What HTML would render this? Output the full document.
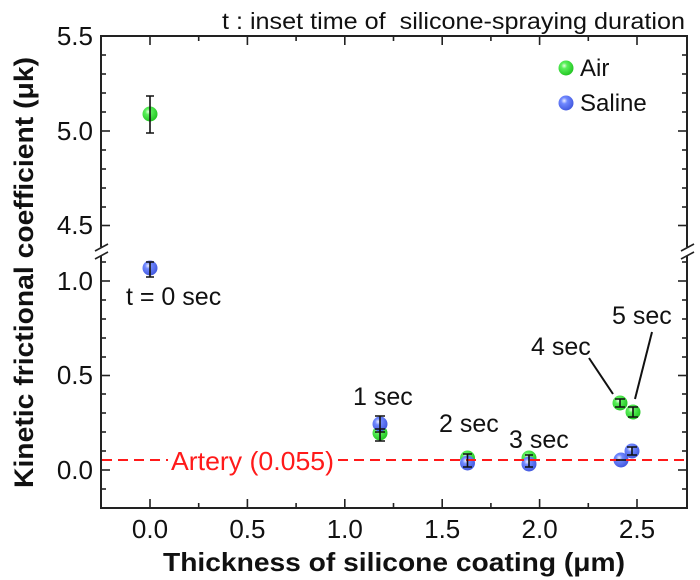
<!DOCTYPE html>
<html><head><meta charset="utf-8"><style>
html,body{margin:0;padding:0;background:#fff;}
svg{display:block;}
text{font-family:"Liberation Sans",Arial,sans-serif;}
</style></head><body>
<svg width="700" height="580" viewBox="0 0 700 580" xmlns="http://www.w3.org/2000/svg">
<defs>
<radialGradient id="gG" cx="38%" cy="35%" r="70%">
<stop offset="0%" stop-color="#e6ffe0"/><stop offset="28%" stop-color="#5af05a"/><stop offset="100%" stop-color="#1fc21f"/>
</radialGradient>
<radialGradient id="gB" cx="38%" cy="35%" r="70%">
<stop offset="0%" stop-color="#eef0ff"/><stop offset="30%" stop-color="#7088ff"/><stop offset="100%" stop-color="#3f55dc"/>
</radialGradient>
</defs>
<rect width="700" height="580" fill="#fff"/>

<!-- title -->
<text x="222" y="29" font-size="23" textLength="463" lengthAdjust="spacingAndGlyphs" fill="#111" xml:space="preserve">t : inset time of  silicone-spraying duration</text>

<!-- frame -->
<g stroke="#222" stroke-width="2" fill="none">
<line x1="100" y1="36" x2="688" y2="36"/>
<line x1="100" y1="508" x2="688" y2="508"/>
<line x1="101" y1="36" x2="101" y2="247"/>
<line x1="101" y1="256" x2="101" y2="508"/>
<line x1="687" y1="36" x2="687" y2="247"/>
<line x1="687" y1="256" x2="687" y2="508"/>
<!-- breaks -->
<line x1="95" y1="251" x2="108" y2="244" stroke-width="1.6"/>
<line x1="95" y1="259" x2="108" y2="252" stroke-width="1.6"/>
<line x1="681" y1="251" x2="694" y2="244" stroke-width="1.6"/>
<line x1="681" y1="259" x2="694" y2="252" stroke-width="1.6"/>
</g>

<!-- ticks -->
<g stroke="#222" stroke-width="1.6">
<!-- left major -->
<line x1="101" y1="131" x2="110" y2="131"/><line x1="101" y1="225.5" x2="110" y2="225.5"/>
<line x1="101" y1="281" x2="110" y2="281"/><line x1="101" y1="375.5" x2="110" y2="375.5"/><line x1="101" y1="470" x2="110" y2="470"/>
<!-- left minor -->
<line x1="101" y1="55" x2="106" y2="55"/><line x1="101" y1="74" x2="106" y2="74"/><line x1="101" y1="93" x2="106" y2="93"/><line x1="101" y1="112" x2="106" y2="112"/>
<line x1="101" y1="150" x2="106" y2="150"/><line x1="101" y1="169" x2="106" y2="169"/><line x1="101" y1="188" x2="106" y2="188"/><line x1="101" y1="207" x2="106" y2="207"/>
<line x1="101" y1="262" x2="106" y2="262"/><line x1="101" y1="300" x2="106" y2="300"/><line x1="101" y1="319" x2="106" y2="319"/><line x1="101" y1="338" x2="106" y2="338"/><line x1="101" y1="357" x2="106" y2="357"/>
<line x1="101" y1="394" x2="106" y2="394"/><line x1="101" y1="413" x2="106" y2="413"/><line x1="101" y1="432" x2="106" y2="432"/><line x1="101" y1="451" x2="106" y2="451"/><line x1="101" y1="489" x2="106" y2="489"/>
<!-- right major -->
<line x1="687" y1="131" x2="678" y2="131"/><line x1="687" y1="225.5" x2="678" y2="225.5"/>
<line x1="687" y1="281" x2="678" y2="281"/><line x1="687" y1="375.5" x2="678" y2="375.5"/><line x1="687" y1="470" x2="678" y2="470"/>
<!-- right minor -->
<line x1="687" y1="55" x2="682" y2="55"/><line x1="687" y1="74" x2="682" y2="74"/><line x1="687" y1="93" x2="682" y2="93"/><line x1="687" y1="112" x2="682" y2="112"/>
<line x1="687" y1="150" x2="682" y2="150"/><line x1="687" y1="169" x2="682" y2="169"/><line x1="687" y1="188" x2="682" y2="188"/><line x1="687" y1="207" x2="682" y2="207"/>
<line x1="687" y1="262" x2="682" y2="262"/><line x1="687" y1="300" x2="682" y2="300"/><line x1="687" y1="319" x2="682" y2="319"/><line x1="687" y1="338" x2="682" y2="338"/><line x1="687" y1="357" x2="682" y2="357"/>
<line x1="687" y1="394" x2="682" y2="394"/><line x1="687" y1="413" x2="682" y2="413"/><line x1="687" y1="432" x2="682" y2="432"/><line x1="687" y1="451" x2="682" y2="451"/><line x1="687" y1="489" x2="682" y2="489"/>
<!-- bottom major -->
<line x1="150" y1="508" x2="150" y2="499"/><line x1="247.4" y1="508" x2="247.4" y2="499"/><line x1="344.8" y1="508" x2="344.8" y2="499"/>
<line x1="442.2" y1="508" x2="442.2" y2="499"/><line x1="539.6" y1="508" x2="539.6" y2="499"/><line x1="637" y1="508" x2="637" y2="499"/>
<!-- bottom minor -->
<line x1="198.7" y1="508" x2="198.7" y2="503"/><line x1="296.1" y1="508" x2="296.1" y2="503"/><line x1="393.5" y1="508" x2="393.5" y2="503"/>
<line x1="490.9" y1="508" x2="490.9" y2="503"/><line x1="588.3" y1="508" x2="588.3" y2="503"/>
<!-- top major -->
<line x1="150" y1="36" x2="150" y2="45"/><line x1="247.4" y1="36" x2="247.4" y2="45"/><line x1="344.8" y1="36" x2="344.8" y2="45"/>
<line x1="442.2" y1="36" x2="442.2" y2="45"/><line x1="539.6" y1="36" x2="539.6" y2="45"/><line x1="637" y1="36" x2="637" y2="45"/>
<!-- top minor -->
<line x1="198.7" y1="36" x2="198.7" y2="41"/><line x1="296.1" y1="36" x2="296.1" y2="41"/><line x1="393.5" y1="36" x2="393.5" y2="41"/>
<line x1="490.9" y1="36" x2="490.9" y2="41"/><line x1="588.3" y1="36" x2="588.3" y2="41"/>
</g>

<!-- tick labels -->
<g font-size="26" fill="#111" text-anchor="end">
<text x="93" y="45">5.5</text>
<text x="93" y="140">5.0</text>
<text x="93" y="234">4.5</text>
<text x="93" y="290">1.0</text>
<text x="93" y="384">0.5</text>
<text x="93" y="479">0.0</text>
</g>
<g font-size="26" fill="#111" text-anchor="middle">
<text x="150" y="538">0.0</text>
<text x="247.4" y="538">0.5</text>
<text x="344.8" y="538">1.0</text>
<text x="442.2" y="538">1.5</text>
<text x="539.6" y="538">2.0</text>
<text x="637" y="538">2.5</text>
</g>

<!-- axis titles -->
<text x="163" y="571" font-size="26" font-weight="bold" fill="#111" textLength="462" lengthAdjust="spacingAndGlyphs">Thickness of silicone coating (μm)</text>
<text transform="translate(33,488) rotate(-90)" x="0" y="0" font-size="27" font-weight="bold" fill="#111" textLength="431" lengthAdjust="spacingAndGlyphs">Kinetic frictional coefficient (μk)</text>

<!-- markers: Air -->
<g>
<circle cx="150" cy="114" r="7.5" fill="url(#gG)"/>
<circle cx="380" cy="433" r="7.5" fill="url(#gG)"/>
<circle cx="467.5" cy="458" r="7.5" fill="url(#gG)"/>
<circle cx="529" cy="458" r="7.5" fill="url(#gG)"/>
<circle cx="620" cy="403" r="7.5" fill="url(#gG)"/>
<circle cx="633" cy="412" r="7.5" fill="url(#gG)"/>
</g>
<!-- markers: Saline -->
<g>
<circle cx="150" cy="268" r="7.5" fill="url(#gB)"/>
<circle cx="380" cy="424" r="7.5" fill="url(#gB)"/>
<circle cx="467.5" cy="463" r="7.5" fill="url(#gB)"/>
<circle cx="529" cy="464" r="7.5" fill="url(#gB)"/>
<circle cx="621" cy="460" r="7.5" fill="url(#gB)"/>
<circle cx="632" cy="451" r="7.5" fill="url(#gB)"/>
</g>

<!-- artery line -->
<g stroke="#ff1a1a" stroke-width="2" stroke-dasharray="10,6">
<line x1="102" y1="460" x2="168" y2="460"/>
<line x1="338" y1="460" x2="686" y2="460"/>
</g>
<text x="171" y="470" font-size="26" fill="#ff1a1a" textLength="163" lengthAdjust="spacingAndGlyphs">Artery (0.055)</text>

<!-- error bars -->
<g stroke="#111" stroke-width="1.6" fill="none">
<path d="M150 96V133M146 96h8M146 133h8"/>
<path d="M150 262V277M146 262h8M146 277h8"/>
<path d="M380 416V432M375 416h10M375 432h10"/>
<path d="M380 429V441M375 429h10M375 441h10"/>
<path d="M467.5 454V467M463 454h9M463 467h9"/>
<path d="M529 455V467M525 455h8M525 467h8"/>
<path d="M620 399V407M615 399h10M615 407h10"/>
<path d="M633 407V417M628 407h10M628 417h10"/>
<path d="M616 460h10"/>
<path d="M632 447V455M627 447h10M627 455h10"/>
</g>

<!-- data labels -->
<g font-size="25" fill="#111">
<text x="126" y="305">t = 0 sec</text>
<text x="353" y="405">1 sec</text>
<text x="439" y="432">2 sec</text>
<text x="509" y="448">3 sec</text>
<text x="531" y="355">4 sec</text>
<text x="612" y="324">5 sec</text>
</g>
<g stroke="#111" stroke-width="2">
<line x1="589" y1="358" x2="613" y2="394"/>
<line x1="652" y1="332" x2="635" y2="399"/>
</g>

<!-- legend -->
<circle cx="566" cy="68" r="7.5" fill="url(#gG)"/>
<text x="580" y="76" font-size="24" fill="#111">Air</text>
<circle cx="566" cy="103" r="7.5" fill="url(#gB)"/>
<text x="580" y="111" font-size="24" fill="#111">Saline</text>
</svg>
</body></html>
